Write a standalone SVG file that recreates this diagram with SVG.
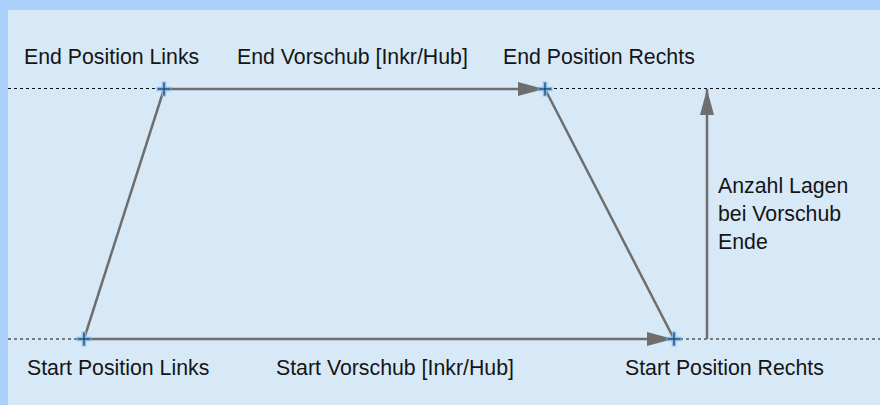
<svg xmlns="http://www.w3.org/2000/svg" width="880" height="405" viewBox="0 0 880 405">
  <style>
    .label { font-family: "Liberation Sans", Arial, sans-serif; font-size: 21.3px; fill: #151515; }
    .guide { stroke: #111; stroke-width: 1; stroke-dasharray: 3 3; fill: none; }
    .path { stroke: #6e6e6e; stroke-width: 2.5; fill: none; }
    .halo { stroke: #7fbbee; stroke-width: 4.5; opacity: 0.85; }
    .mark { stroke: #1c3a56; stroke-width: 1.2; }
  </style>
  <defs>
    <marker id="arrow" markerUnits="userSpaceOnUse" markerWidth="26" markerHeight="14" refX="26" refY="7" orient="auto">
      <path d="M0,0 L26,7 L0,14 z" fill="#6e6e6e"/>
    </marker>
    <g id="cross">
      <line class="halo" x1="-7.5" y1="0" x2="7.5" y2="0"/>
      <line class="halo" x1="0" y1="-7.5" x2="0" y2="7.5"/>
      <line class="mark" x1="-6.5" y1="0" x2="6.5" y2="0"/>
      <line class="mark" x1="0" y1="-6.5" x2="0" y2="6.5"/>
    </g>
  </defs>

  <!-- frame and panel -->
  <rect x="0" y="0" width="880" height="405" fill="#abd1fb"/>
  <rect x="8" y="10" width="872" height="395" fill="#d7e9f7"/>

  <!-- level guides -->
  <g id="guides">
    <line class="guide" x1="8" y1="88.5" x2="880" y2="88.5"/>
    <line class="guide" x1="8" y1="339" x2="880" y2="339"/>
  </g>

  <!-- connectors -->
  <g id="connectors">
    <line class="path" x1="84" y1="339" x2="164" y2="89"/>
    <line class="path" x1="545" y1="89" x2="674" y2="339"/>
    <line class="path" x1="164" y1="89" x2="544" y2="89" marker-end="url(#arrow)"/>
    <line class="path" x1="84" y1="339" x2="673" y2="339" marker-end="url(#arrow)"/>
    <line class="path" x1="707" y1="339" x2="707" y2="89" marker-end="url(#arrow)"/>
  </g>

  <!-- position points -->
  <g id="end-links"><use href="#cross" x="164" y="89"/></g>
  <g id="end-rechts"><use href="#cross" x="545" y="89"/></g>
  <g id="start-links"><use href="#cross" x="84" y="339"/></g>
  <g id="start-rechts"><use href="#cross" x="674" y="339"/></g>

  <!-- labels -->
  <g id="labels">
    <text class="label" x="24" y="64">End Position Links</text>
    <text class="label" x="237" y="64">End Vorschub [Inkr/Hub]</text>
    <text class="label" x="503" y="64">End Position Rechts</text>
    <text class="label" x="27" y="375">Start Position Links</text>
    <text class="label" x="276" y="375">Start Vorschub [Inkr/Hub]</text>
    <text class="label" x="625" y="375">Start Position Rechts</text>
    <text class="label" x="718" y="193">Anzahl Lagen</text>
    <text class="label" x="718" y="221">bei Vorschub</text>
    <text class="label" x="718" y="249">Ende</text>
  </g>
</svg>
